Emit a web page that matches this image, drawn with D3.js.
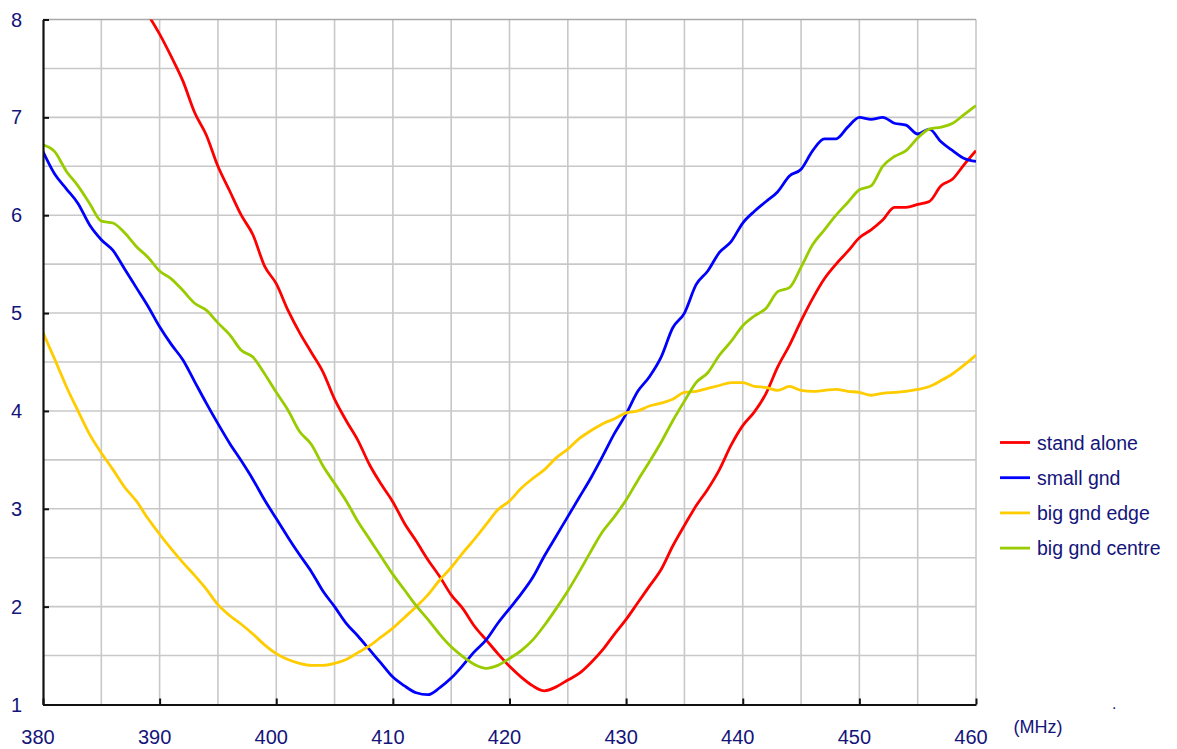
<!DOCTYPE html>
<html>
<head>
<meta charset="utf-8">
<script src="https://cdn.jsdelivr.net/npm/d3@7"></script>
<style>
  body { margin: 0; background: #fff; }
  text { font-family: "Liberation Sans", Arial, sans-serif; fill: #14147a; }
</style>
</head>
<body>
<script>
// frequency points (MHz), one every 1 MHz
var freqs = d3.range(380, 461, 1);

var xTicks = [380, 390, 400, 410, 420, 430, 440, 450, 460];
var yTicks = [1, 2, 3, 4, 5, 6, 7, 8];

var seriesNames = ["stand alone", "small gnd", "big gnd edge", "big gnd centre"];
var colors = ["#ff0000", "#0000ff", "#ffcc00", "#99cc00"];

// values; null = off the chart (above 8)
var standAlone = [null, null, null, null, null, null, null, null, null,
  8.05, 7.85, 7.62, 7.37, 7.05, 6.82, 6.50, 6.25, 6.00, 5.80, 5.48,
  5.30, 5.03, 4.80, 4.60, 4.40, 4.12, 3.90, 3.70, 3.45, 3.25,
  3.07, 2.85, 2.67, 2.48, 2.31, 2.12, 1.98, 1.80, 1.66, 1.52,
  1.39, 1.28, 1.19, 1.14, 1.18, 1.25, 1.32, 1.43, 1.56, 1.72,
  1.87, 2.04, 2.21, 2.38, 2.62, 2.83, 3.03, 3.20, 3.40, 3.65,
  3.85, 3.99, 4.18, 4.45, 4.67, 4.92, 5.15, 5.35, 5.50, 5.63,
  5.77, 5.85, 5.95, 6.08, 6.08, 6.11, 6.14, 6.30, 6.37, 6.52,
  6.66];

var smallGnd = [6.65, 6.42, 6.27, 6.12, 5.90, 5.75, 5.64, 5.45, 5.26, 5.07,
  4.86, 4.68, 4.52, 4.30, 4.08, 3.87, 3.67, 3.49, 3.30, 3.09,
  2.90, 2.71, 2.53, 2.36, 2.16, 2.00, 1.83, 1.70, 1.56, 1.42,
  1.28, 1.19, 1.12, 1.10, 1.17, 1.27, 1.40, 1.54, 1.66, 1.83,
  1.98, 2.13, 2.30, 2.52, 2.72, 2.92, 3.12, 3.32, 3.54, 3.77,
  3.97, 4.20, 4.35, 4.55, 4.85, 5.00, 5.29, 5.43, 5.62, 5.73,
  5.92, 6.04, 6.14, 6.24, 6.40, 6.47, 6.66, 6.78, 6.78, 6.90,
  7.00, 6.98, 7.00, 6.94, 6.92, 6.83, 6.88, 6.75, 6.66, 6.58,
  6.55];

var bigGndEdge = [4.80, 4.53, 4.25, 4.00, 3.76, 3.57, 3.40, 3.22, 3.08, 2.90,
  2.74, 2.59, 2.45, 2.32, 2.18, 2.02, 1.91, 1.82, 1.72, 1.61,
  1.52, 1.46, 1.42, 1.40, 1.40, 1.42, 1.46, 1.53, 1.60, 1.69,
  1.78, 1.89, 2.00, 2.12, 2.27, 2.40, 2.55, 2.69, 2.84, 2.99,
  3.08, 3.21, 3.31, 3.40, 3.52, 3.61, 3.72, 3.80, 3.87, 3.92,
  3.98, 4.00, 4.05, 4.08, 4.12, 4.19, 4.20, 4.23, 4.26, 4.29,
  4.29, 4.25, 4.24, 4.21, 4.25, 4.21, 4.20, 4.21, 4.22, 4.20,
  4.19, 4.16, 4.18, 4.19, 4.20, 4.22, 4.25, 4.31, 4.38, 4.47,
  4.57];

var bigGndCentre = [6.72, 6.65, 6.45, 6.30, 6.12, 5.94, 5.92, 5.82, 5.68, 5.57,
  5.43, 5.35, 5.23, 5.10, 5.03, 4.90, 4.78, 4.62, 4.55, 4.38,
  4.19, 4.01, 3.79, 3.66, 3.44, 3.26, 3.08, 2.87, 2.69, 2.51,
  2.33, 2.17, 2.01, 1.87, 1.72, 1.59, 1.49, 1.41, 1.37, 1.40,
  1.47, 1.55, 1.66, 1.81, 1.98, 2.16, 2.36, 2.57, 2.77, 2.92,
  3.09, 3.29, 3.48, 3.68, 3.90, 4.10, 4.29, 4.39, 4.57, 4.71,
  4.87, 4.97, 5.05, 5.22, 5.26, 5.47, 5.70, 5.85, 6.00, 6.13,
  6.26, 6.30, 6.50, 6.60, 6.66, 6.79, 6.88, 6.90, 6.94, 7.03,
  7.12];

var seriesValues = [standAlone, smallGnd, bigGndEdge, bigGndCentre];

var width = 1177, height = 749;
var plotLeft = 43, plotRight = 976, plotTop = 19.5, plotBottom = 704.5;

var svg = d3.select("body").append("svg")
    .attr("width", width)
    .attr("height", height);

var x = d3.scaleLinear().domain([380, 460]).range([plotLeft, plotRight]);
var y = d3.scaleLinear().domain([1, 8]).range([plotBottom, plotTop]);

// grid every 5 MHz and every 0.5
svg.append("g")
    .attr("class", "grid")
    .selectAll("line.v")
    .data(d3.range(385, 461, 5))
    .enter().append("line")
    .attr("x1", function(d) { return x(d); })
    .attr("x2", function(d) { return x(d); })
    .attr("y1", y(1))
    .attr("y2", y(8))
    .attr("stroke", "#c8c8c8")
    .attr("stroke-width", 1.6);

svg.append("g")
    .attr("class", "grid")
    .selectAll("line.h")
    .data(d3.range(1.5, 8.01, 0.5))
    .enter().append("line")
    .attr("x1", x(380))
    .attr("x2", x(460))
    .attr("y1", function(d) { return y(d); })
    .attr("y2", function(d) { return y(d); })
    .attr("stroke", function(d) { return d === 8 ? "#a8a8a8" : "#c8c8c8"; })
    .attr("stroke-width", 1.6);

svg.append("defs").append("clipPath")
    .attr("id", "plot-clip")
    .append("rect")
    .attr("x", plotLeft)
    .attr("y", plotTop)
    .attr("width", plotRight - plotLeft)
    .attr("height", plotBottom - plotTop);

var line = d3.line()
    .defined(function(d) { return d[1] != null; })
    .x(function(d) { return x(d[0]); })
    .y(function(d) { return y(d[1]); })
    .curve(d3.curveMonotoneX);

svg.append("g")
    .attr("clip-path", "url(#plot-clip)")
    .selectAll("path")
    .data(seriesValues)
    .enter().append("path")
    .attr("fill", "none")
    .attr("stroke", function(d, i) { return colors[i]; })
    .attr("stroke-width", 2.8)
    .attr("stroke-linejoin", "round")
    .attr("d", function(vals) {
      return line(freqs.map(function(f, k) { return [f, vals[k]]; }));
    });

// axes
var xAxis = svg.append("g")
    .attr("transform", "translate(0," + plotBottom + ")")
    .call(d3.axisBottom(x).tickValues(xTicks).tickSizeInner(-6).tickSizeOuter(0).tickFormat(""));
var yAxis = svg.append("g")
    .attr("transform", "translate(" + plotLeft + ",0)")
    .call(d3.axisLeft(y).tickValues(yTicks).tickSizeInner(-6).tickSizeOuter(0).tickFormat(""));
[xAxis, yAxis].forEach(function(a) {
  a.select(".domain").attr("stroke", "#111").attr("stroke-width", 2.2);
  a.selectAll(".tick line").attr("stroke", "#111").attr("stroke-width", 2);
});

svg.selectAll(".xlabel")
    .data(xTicks)
    .enter().append("text")
    .attr("class", "xlabel")
    .attr("x", function(d) { return x(d) - 5; })
    .attr("y", 744)
    .attr("text-anchor", "middle")
    .style("font-size", "20px")
    .text(function(d) { return d; });

svg.selectAll(".ylabel")
    .data(yTicks)
    .enter().append("text")
    .attr("class", "ylabel")
    .attr("x", 22)
    .attr("y", function(d) { return y(d) + 7; })
    .attr("text-anchor", "end")
    .style("font-size", "20px")
    .text(function(d) { return d; });

svg.append("text")
    .attr("x", 1038)
    .attr("y", 733)
    .attr("text-anchor", "middle")
    .style("font-size", "18px")
    .text("(MHz)");

svg.append("text")
    .attr("x", 1112)
    .attr("y", 709)
    .style("font-size", "16px")
    .text(".");

// legend
var legend = svg.selectAll(".legend")
    .data(seriesNames)
    .enter().append("g")
    .attr("class", "legend")
    .attr("transform", function(d, i) { return "translate(1000," + (442.5 + i * 35.2) + ")"; });

legend.append("line")
    .attr("x1", 0)
    .attr("x2", 30)
    .attr("stroke", function(d, i) { return colors[i]; })
    .attr("stroke-width", 2.8);

legend.append("text")
    .attr("x", 37)
    .attr("y", 7)
    .style("font-size", "19.5px")
    .text(function(d) { return d; });
</script>
</body>
</html>
